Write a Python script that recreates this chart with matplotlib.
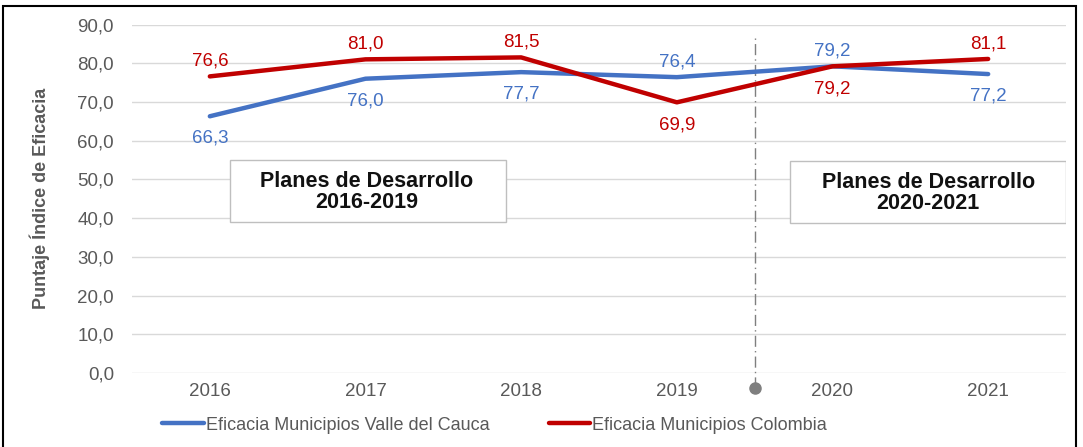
import matplotlib.pyplot as plt
from matplotlib.patches import Rectangle

years = ['2016', '2017', '2018', '2019', '2020', '2021']
valle = [66.3, 76.0, 77.7, 76.4, 79.2, 77.2]
colombia = [76.6, 81.0, 81.5, 69.9, 79.2, 81.1]
valle_pos = ['below', 'below', 'below', 'above', 'above', 'below']
colombia_pos = ['above', 'above', 'above', 'below', 'below', 'above']

blue = '#4472C4'
red = '#C00000'
gray = '#595959'

plt.rcParams['font.family'] = ['Liberation Sans', 'DejaVu Sans']

fig = plt.figure(figsize=(10.83, 4.47), dpi=100)
ax = fig.add_axes([132 / 1083, 1 - 373 / 447, (1066 - 132) / 1083, (373 - 24.5) / 447])

x = list(range(len(years)))
ax.plot(x, valle, color=blue, lw=3.2, solid_capstyle='round',
        label='Eficacia Municipios Valle del Cauca', zorder=3)
ax.plot(x, colombia, color=red, lw=3.2, solid_capstyle='round',
        label='Eficacia Municipios Colombia', zorder=4)

def fmt(v):
    return f'{v:.1f}'.replace('.', ',')

for xi, v, p in zip(x, valle, valle_pos):
    off = 11 if p == 'above' else -16
    ax.annotate(fmt(v), (xi, v), xytext=(0, off), textcoords='offset points',
                ha='center', va='center', color=blue, fontsize=13.5)
for xi, v, p in zip(x, colombia, colombia_pos):
    off = 11 if p == 'above' else -16
    ax.annotate(fmt(v), (xi, v), xytext=(0, off), textcoords='offset points',
                ha='center', va='center', color=red, fontsize=13.5)

ax.set_xlim(-0.5, 5.5)
ax.set_ylim(0, 90)
ax.set_yticks(range(0, 91, 10))
ax.set_yticklabels([fmt(v) for v in range(0, 91, 10)])
ax.set_xticks(x)
ax.set_xticklabels(years)
ax.tick_params(length=0, colors=gray, labelsize=13.5)
ax.tick_params(axis='y', pad=13)
ax.tick_params(axis='x', pad=7)
ax.grid(axis='y', color='#D9D9D9', lw=1)
ax.set_axisbelow(True)
for s in ax.spines.values():
    s.set_visible(False)

ax.set_ylabel('Puntaje Índice de Eficacia', fontsize=13, fontweight='bold', color=gray,
              family=['Liberation Sans Narrow', 'Liberation Sans', 'DejaVu Sans'], labelpad=20)

# divider between development plans
ax.plot([3.5, 3.5], [-3.8, 87.5], color='#7F7F7F', lw=1, ls=(0, (8, 3, 1, 3)), clip_on=False, zorder=2)
ax.plot([3.5], [-4.0], 'o', color='#7F7F7F', ms=8, clip_on=False, zorder=2)

# plan boxes
ax.add_patch(Rectangle((0.13, 39.0), 1.77, 16.0, facecolor='white', edgecolor='#BFBFBF', lw=1, zorder=5))
ax.text(1.01, 46.8, 'Planes de Desarrollo\n2016-2019', ha='center', va='center',
        fontsize=15.5, fontweight='bold', color='#111111', zorder=6, linespacing=1.0)
ax.add_patch(Rectangle((3.73, 38.8), 1.77, 16.0, facecolor='white', edgecolor='#BFBFBF', lw=1, zorder=5))
ax.text(4.615, 46.6, 'Planes de Desarrollo\n2020-2021', ha='center', va='center',
        fontsize=15.5, fontweight='bold', color='#111111', zorder=6, linespacing=1.0)

leg = fig.legend(loc='center left', bbox_to_anchor=(146 / 1083, 1 - 425 / 447), ncol=2,
                 frameon=False, fontsize=13, handlelength=2.3, handletextpad=0.1,
                 columnspacing=3.3, labelcolor=gray)

# outer frame
fig.patches.append(Rectangle((3 / 1083, -0.05), 1073 / 1083, 1.05 - 6 / 447, transform=fig.transFigure,
                             fill=False, edgecolor='black', lw=1.5))

fig.savefig('out.png', dpi=100)
